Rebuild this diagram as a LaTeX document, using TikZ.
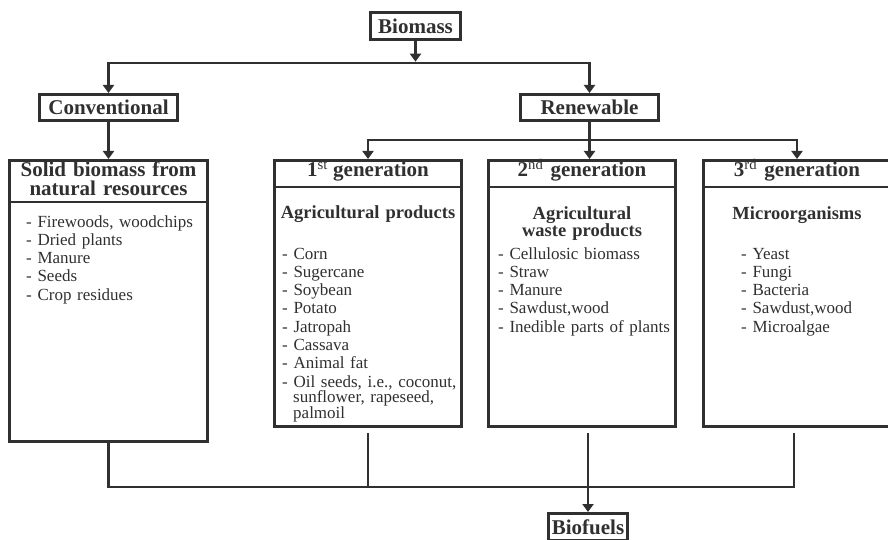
\documentclass[tikz,border=0pt]{standalone}
\usepackage{fontspec}
\setmainfont{Liberation Serif}
\usetikzlibrary{arrows.meta,calc}
\definecolor{ink}{HTML}{303030}
\begin{document}
\begin{tikzpicture}[x=1pt,y=-1pt,
  box/.style={draw=ink,line width=3pt,inner sep=0pt,text=ink,font=\fontsize{21}{19}\selectfont\bfseries},
  conn/.style={draw=ink,line width=2.6pt},
  arr/.style={conn,-{Triangle[length=8pt,width=11pt]}},
  ttl/.style={font=\fontsize{21}{19}\selectfont\bfseries,text=ink,inner sep=0pt,anchor=base},
  subh/.style={font=\fontsize{18.5}{14.5}\selectfont\bfseries,text=ink,inner sep=0pt,anchor=base,align=center,text width=185pt},
  items/.style={font=\fontsize{17}{18.3}\selectfont,text=ink,inner sep=0pt,align=left,text width=185pt,anchor=base west},
  divider/.style={draw=ink,line width=2.6pt}]
\useasboundingbox (0,0) rectangle (888,540);

% boxes
\node[box,minimum width=90pt,minimum height=27pt] (biomass) at (415.5,26) {Biomass};
\node[box,minimum width=138pt,minimum height=26pt] (conv) at (108.5,107.5) {Conventional};
\node[box,minimum width=138pt,minimum height=26pt] (renew) at (589.5,107.5) {Renewable};
\node[box,minimum width=198pt,minimum height=281pt] (solid) at (108.5,301) {};
\node[box,minimum width=187pt,minimum height=266pt] (gen1) at (368,293.5) {};
\node[box,minimum width=187pt,minimum height=266pt] (gen2) at (582,293.5) {};
\node[box,minimum width=187pt,minimum height=266pt] (gen3) at (797,293.5) {};
\node[box,minimum width=79pt,minimum height=27pt] (biofuels) at (588,527) {Biofuels};

% dividers
\draw[divider] (solid.west |- 0,202) -- (solid.east |- 0,202);
\draw[divider] (gen1.west |- 0,187) -- (gen1.east |- 0,187);
\draw[divider] (gen2.west |- 0,187) -- (gen2.east |- 0,187);
\draw[divider] (gen3.west |- 0,187) -- (gen3.east |- 0,187);

% titles
\node[ttl,align=center,text width=200pt] (solidt) at (108.5,177) {Solid biomass from\\natural resources};
\node[ttl] (gen1t) at (368,177) {1\textsuperscript{\mdseries st} generation};
\node[ttl] (gen2t) at (582,177) {2\textsuperscript{\mdseries nd}\hspace{2pt} generation};
\node[ttl] (gen3t) at (797,177) {3\textsuperscript{\mdseries rd}\hspace{2pt} generation};

% subheadings
\node[subh] (gen1s) at (368,218) {Agricultural products};
\node[subh] (gen2s) at (582,219) {Agricultural\\waste products};
\node[subh] (gen3s) at (797,219) {Microorganisms};

% item lists
\node[items] (solidi) at (26,227) {- Firewoods, woodchips\\- Dried plants\\- Manure\\- Seeds\\- Crop residues};
\node[items] (gen1i) at (282,259) {- Corn\\- Sugercane\\- Soybean\\- Potato\\- Jatropah\\- Cassava\\- Animal fat\\- Oil seeds, i.e., coconut,\\[-2.8pt]\hspace*{11pt}sunflower, rapeseed,\\[-2.8pt]\hspace*{11pt}palmoil};
\node[items] (gen2i) at (498,259) {- Cellulosic biomass\\- Straw\\- Manure\\- Sawdust,wood\\- Inedible parts of plants};
\node[items] (gen3i) at (741,259) {- Yeast\\- Fungi\\- Bacteria\\- Sawdust,wood\\- Microalgae};

% top connectors
\coordinate (t1) at (415.5,63);
\coordinate (t2) at (589.5,140);
\draw[arr] (biomass.south) -- ($(biomass.south |- t1)+(0,-1.3)$);
\draw[arr] (t1) -| (conv.north);
\draw[arr] (t1) -| (renew.north);
\draw[arr] (conv.south) -- (solid.north);
\draw[arr] (renew.south) -- (renew.south |- gen2.north);
\draw[arr] (t2) -| (gen1.north);
\draw[arr] (t2) -| (gen3.north);

% bottom connectors
\coordinate (bus) at (0,487);
\draw[conn] (solid.south) -- (solid.south |- bus) -- ($(gen3.south |- bus)+(-3,0)$) -- ($(gen3.south)+(-3,5)$);
\draw[conn] ($(gen1.south)+(0,5)$) -- (gen1.south |- bus);
\draw[arr] ($(biofuels.north |- gen2.south)+(0,5)$) -- (biofuels.north);
\end{tikzpicture}
\end{document}
